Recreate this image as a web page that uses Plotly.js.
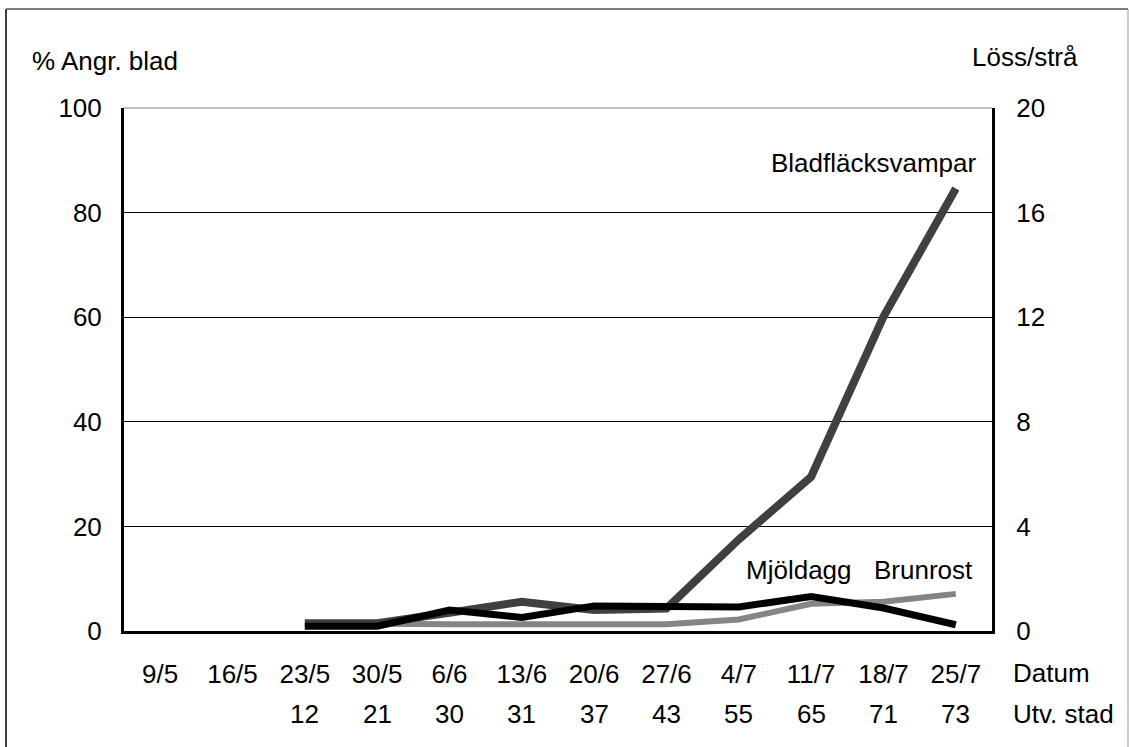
<!DOCTYPE html>
<html>
<head>
<meta charset="utf-8">
<script src="https://cdn.plot.ly/plotly-3.0.1.min.js"></script>
<style>html,body{margin:0;padding:0;background:#fff;}#chart{width:1129px;height:747px;}</style>
</head>
<body>
<div id="chart"></div>
<script>
// Data
const dates = ["9/5","16/5","23/5","30/5","6/6","13/6","20/6","27/6","4/7","11/7","18/7","25/7"];
const stages = ["", "", "12","21","30","31","37","43","55","65","71","73"];
const bladflacksvampar = [null, null, 1.5, 1.5, 3.5, 5.6, 4.0, 4.3, 17.5, 29.5, 60.1, 84.6];
const brunrost = [null, null, 1.5, 1.3, 1.3, 1.3, 1.3, 1.3, 2.2, 5.2, 5.6, 7.1];
const mjoldagg = [null, null, 0.9, 0.9, 4.0, 2.6, 4.8, 4.8, 4.6, 6.6, 4.4, 1.2];
const leftTicks = [0, 20, 40, 60, 80, 100];
const rightTicks = [0, 4, 8, 12, 16, 20];

const W = 1129, H = 747;
const L = 124, R = 992, T = 108, B = 631;
const px = x => (x - L) / (R - L);
const py = y => (B - y) / (B - T);
const FONT = "Liberation Sans, Arial, sans-serif";
const FS = 26;

const traces = [
  {x: dates, y: brunrost, type: "scatter", mode: "lines", line: {color: "#858585", width: 6}, hoverinfo: "skip"},
  {x: dates, y: bladflacksvampar, type: "scatter", mode: "lines", line: {color: "#404040", width: 8}, hoverinfo: "skip"},
  {x: dates, y: mjoldagg, type: "scatter", mode: "lines", line: {color: "#000000", width: 7}, hoverinfo: "skip"},
  // registers the right-hand axis (Löss/strå), no marks
  {x: [], y: [], yaxis: "y2", type: "scatter", mode: "lines", hoverinfo: "skip"}
];

const annotations = [
  {text: "% Angr. blad", x: px(30), y: py(61), xanchor: "left", yanchor: "middle"},
  {text: "Löss/strå", x: px(970), y: py(57), xanchor: "left", yanchor: "middle"},
  {text: "Bladfläcksvampar", x: px(979), y: py(163), xanchor: "right", yanchor: "middle"},
  {text: "Mjöldagg", x: px(744), y: py(570), xanchor: "left", yanchor: "middle"},
  {text: "Brunrost", x: px(872), y: py(570), xanchor: "left", yanchor: "middle"},
  {text: "Datum", x: px(1011), y: py(673), xanchor: "left", yanchor: "middle"},
  {text: "Utv. stad", x: px(1011), y: py(714), xanchor: "left", yanchor: "middle"}
].map(a => Object.assign({xref: "paper", yref: "paper", showarrow: false, font: {family: FONT, size: FS, color: "#000"}}, a));

dates.forEach((d, i) => {
  if (stages[i]) annotations.push({
    text: stages[i], x: d, xref: "x", y: py(714), yref: "paper", xanchor: "center", yanchor: "middle",
    showarrow: false, font: {family: FONT, size: FS, color: "#000"}
  });
});

const shapes = [
  {type: "line", xref: "paper", yref: "paper", x0: 0, x1: 1, y0: 1, y1: 1, line: {color: "#808080", width: 1}},
  {type: "line", xref: "paper", yref: "paper", x0: px(6), x1: px(6), y0: py(9), y1: py(747), line: {color: "#000", width: 1.5}},
  {type: "line", xref: "paper", yref: "paper", x0: px(6), x1: px(1128), y0: py(9), y1: py(9), line: {color: "#555", width: 1.5}},
  {type: "line", xref: "paper", yref: "paper", x0: px(1128), x1: px(1128), y0: py(9), y1: py(747), line: {color: "#999", width: 1}}
];

const layout = {
  width: W, height: H,
  margin: {l: L, r: W - R, t: T, b: H - B, pad: 0},
  paper_bgcolor: "#fff", plot_bgcolor: "#fff",
  showlegend: false,
  font: {family: FONT, size: FS, color: "#000"},
  xaxis: {
    type: "category", categoryorder: "array", categoryarray: dates,
    range: [-0.5, dates.length - 0.5],
    tickvals: dates, ticktext: dates,
    showgrid: false, zeroline: false,
    showline: true, linecolor: "#000", linewidth: 3,
    ticks: "", ticklabelstandoff: 18,
    tickfont: {family: FONT, size: FS, color: "#000"},
    fixedrange: true
  },
  yaxis: {
    range: [0, 100], tickvals: leftTicks, ticktext: leftTicks.map(String),
    showgrid: true, gridcolor: "#000", gridwidth: 1,
    zeroline: false, showline: true, linecolor: "#000", linewidth: 3,
    ticks: "", ticklabelstandoff: 14,
    tickfont: {family: FONT, size: FS, color: "#000"},
    fixedrange: true
  },
  yaxis2: {
    overlaying: "y", side: "right", range: [0, 20],
    tickvals: rightTicks, ticktext: rightTicks.map(String),
    showgrid: false, zeroline: false, showline: true, linecolor: "#000", linewidth: 3,
    ticks: "", ticklabelstandoff: 16,
    tickfont: {family: FONT, size: FS, color: "#000"},
    fixedrange: true
  },
  annotations: annotations,
  shapes: shapes
};

Plotly.newPlot("chart", traces, layout, {displayModeBar: false, staticPlot: true});
</script>
</body>
</html>
